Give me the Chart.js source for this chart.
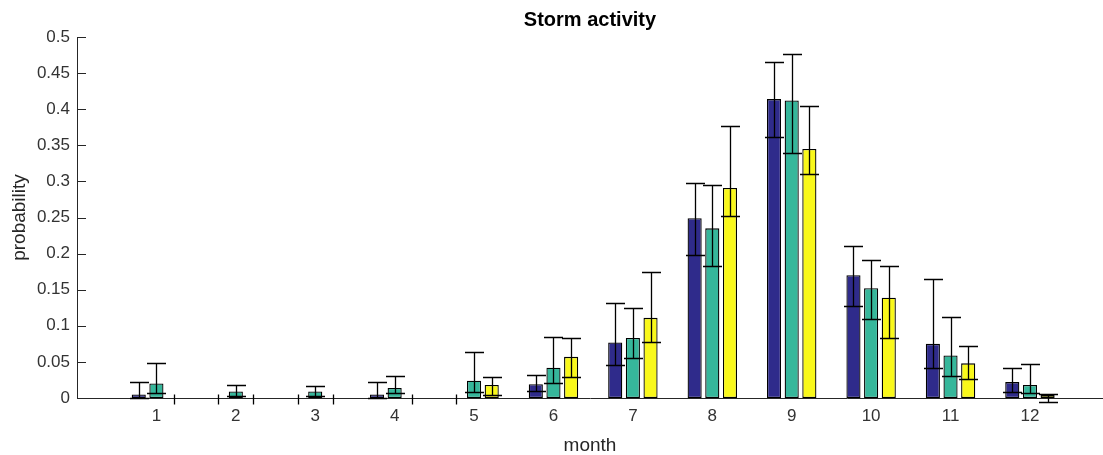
<!DOCTYPE html>
<html>
<head>
<meta charset="utf-8">
<title>Storm activity</title>
<script src="https://cdn.jsdelivr.net/npm/chart.js@4"></script>
<style>
  html, body { margin: 0; padding: 0; background: #ffffff; }
  #wrap { width: 1103px; height: 455px; }
</style>
</head>
<body>
<div id="wrap"><canvas id="chart" width="1103" height="455"></canvas></div>
<script>
// Month positions on the x axis and their labels
const months = [1, 2, 3, 4, 5, 6, 7, 8, 9, 10, 11, 12];
const monthLabels = ['1', '2', '3', '4', '5', '6', '7', '8', '9', '10', '11', '12'];
const yTickValues = [0, 0.05, 0.1, 0.15, 0.2, 0.25, 0.3, 0.35, 0.4, 0.45, 0.5];
const yTickLabels = ['0', '0.05', '0.1', '0.15', '0.2', '0.25', '0.3', '0.35', '0.4', '0.45', '0.5'];

// Probabilities per month for the three groups
const seriesA = [0.005, 0, 0, 0.005, 0, 0.019, 0.077, 0.249, 0.414, 0.170, 0.075, 0.022];
const seriesB = [0.020, 0.009, 0.009, 0.014, 0.024, 0.042, 0.083, 0.235, 0.412, 0.152, 0.059, 0.018];
const seriesC = [0, 0, 0, 0, 0.018, 0.057, 0.111, 0.291, 0.345, 0.139, 0.048, 0.004];

// Lower / upper ends of the error bars
const lowA  = [0, -0.008, -0.008, 0, -0.008, 0.010, 0.046, 0.198, 0.362, 0.128, 0.042, 0.008];
const highA = [0.022, 0.006, 0.006, 0.022, 0.006, 0.032, 0.131, 0.298, 0.466, 0.211, 0.165, 0.042];
const lowB  = [0.0065, 0.003, 0.003, 0.0065, 0.008, 0.021, 0.055, 0.183, 0.340, 0.109, 0.031, 0.0065];
const highB = [0.048, 0.018, 0.016, 0.031, 0.064, 0.085, 0.124, 0.295, 0.477, 0.191, 0.1125, 0.047];
const lowC  = [-0.008, -0.008, -0.008, -0.008, 0.004, 0.029, 0.077, 0.252, 0.310, 0.083, 0.027, -0.005];
const highC = [0.006, 0.006, 0.006, 0.006, 0.029, 0.083, 0.175, 0.377, 0.405, 0.183, 0.072, 0.0055];

const colorA = '#2f2b8b';
const colorB = '#36b79b';
const colorC = '#f9f81b';
const axisColor = '#262626';
const FONT = '"Liberation Sans", Arial, Helvetica, sans-serif';

function points(values) {
  return months.map((m, i) => ({ x: m, y: values[i] }));
}

function makeSet(label, values, low, high, color) {
  return {
    label: label,
    data: points(values),
    xAxisID: 'x',
    yAxisID: 'y',
    errLow: low,
    errHigh: high,
    backgroundColor: color,
    borderColor: '#000000',
    borderWidth: 1.3,
    borderSkipped: false,
    categoryPercentage: 0.667,
    barPercentage: 0.8
  };
}

// Error bars drawn over the bars (caps only where the bar has height)
const errorBars = {
  id: 'errorBars',
  afterDatasetsDraw(chart) {
    const ctx = chart.ctx;
    const yScale = chart.scales.y;
    ctx.save();
    ctx.strokeStyle = '#000000';
    ctx.lineWidth = 1.3;
    chart.data.datasets.forEach((ds, di) => {
      const meta = chart.getDatasetMeta(di);
      meta.data.forEach((bar, j) => {
        const x = Math.round(bar.x) + 0.5;
        const yHi = Math.round(yScale.getPixelForValue(ds.errHigh[j])) + 0.5;
        const yLo = Math.round(yScale.getPixelForValue(ds.errLow[j])) + 0.5;
        ctx.beginPath();
        ctx.moveTo(x, yHi);
        ctx.lineTo(x, yLo);
        if (ds.data[j].y !== 0) {
          const half = 9.5;
          ctx.moveTo(x - half, yHi);
          ctx.lineTo(x + half, yHi);
          ctx.moveTo(x - half, yLo);
          ctx.lineTo(x + half, yLo);
        }
        ctx.stroke();
      });
    });
    ctx.restore();
  }
};

// Short tick marks pointing into the plot from the y axis
const innerTicks = {
  id: 'innerTicks',
  afterDraw(chart) {
    const ctx = chart.ctx;
    const yScale = chart.scales.y;
    const left = chart.chartArea.left;
    ctx.save();
    ctx.strokeStyle = axisColor;
    ctx.lineWidth = 1;
    ctx.beginPath();
    yScale.ticks.forEach(t => {
      const y = Math.round(yScale.getPixelForValue(t.value)) + 0.5;
      ctx.moveTo(left, y);
      ctx.lineTo(left + 9, y);
    });
    ctx.stroke();
    ctx.restore();
  }
};

new Chart(document.getElementById('chart'), {
  type: 'bar',
  data: {
    datasets: [
      makeSet('A', seriesA, lowA, highA, colorA),
      makeSet('B', seriesB, lowB, highB, colorB),
      makeSet('C', seriesC, lowC, highC, colorC)
    ]
  },
  options: {
    responsive: false,
    animation: false,
    layout: { padding: 0 },
    plugins: {
      legend: { display: false },
      tooltip: { enabled: false }
    },
    scales: {
      x: {
        type: 'linear',
        position: 'bottom',
        offset: false,
        min: 0,
        max: 12.92,
        grid: { display: false, drawTicks: false },
        border: { display: true, color: axisColor, width: 1 },
        afterBuildTicks(scale) {
          scale.ticks = months.map(v => ({ value: v }));
        },
        afterFit(scale) { scale.height = 57; },
        ticks: {
          autoSkip: false,
          maxRotation: 0,
          padding: 8,
          color: '#333333',
          font: { family: FONT, size: 17 },
          callback: (v) => monthLabels[months.indexOf(v)] ?? ''
        },
        title: {
          display: true,
          text: 'month',
          color: '#262626',
          font: { family: FONT, size: 19, lineHeight: 1.0 },
          padding: { top: 0, bottom: 0 }
        }
      },
      y: {
        min: 0,
        max: 0.5,
        grid: { display: false, drawTicks: false },
        border: { display: true, color: axisColor, width: 1 },
        afterBuildTicks(scale) {
          scale.ticks = yTickValues.map(v => ({ value: v }));
        },
        afterFit(scale) { scale.width = 77; },
        ticks: {
          padding: 7,
          color: '#333333',
          font: { family: FONT, size: 17 },
          callback: (v) => yTickLabels[yTickValues.indexOf(v)] ?? ''
        },
        title: {
          display: true,
          text: 'probability',
          color: '#262626',
          font: { family: FONT, size: 19, lineHeight: 1.0 },
          padding: { top: 10, bottom: 0 }
        }
      },
      // top axis only carries the chart title, centred over the plot area
      top: {
        type: 'linear',
        position: 'top',
        min: 0,
        max: 1,
        grid: { display: false, drawTicks: false },
        border: { display: false },
        ticks: { display: false },
        afterFit(scale) { scale.height = 37; },
        title: {
          display: true,
          text: 'Storm activity',
          color: '#000000',
          font: { family: FONT, size: 20, weight: 'bold', lineHeight: 1.0 },
          padding: { top: 10, bottom: 0 }
        }
      }
    }
  },
  plugins: [errorBars, innerTicks]
});
</script>
</body>
</html>
